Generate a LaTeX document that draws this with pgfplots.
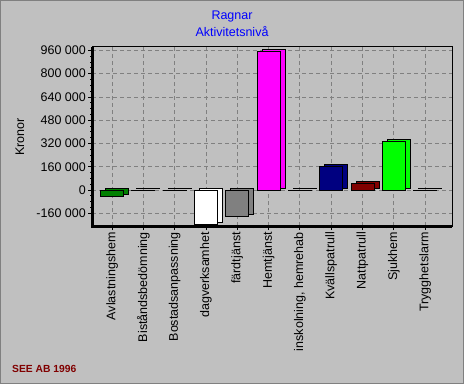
\documentclass[border=0pt]{standalone}
\usepackage{pgfplots}
\pgfplotsset{compat=1.18}
\usepackage{fontspec}
\setmainfont{Liberation Sans}
\definecolor{bg}{RGB}{192,192,192}
\definecolor{dgray}{RGB}{128,128,128}
\definecolor{cgreen}{RGB}{0,128,0}
\definecolor{cyellow}{RGB}{255,255,0}
\definecolor{cblue}{RGB}{0,0,255}
\definecolor{cwhite}{RGB}{255,255,255}
\definecolor{cgray}{RGB}{128,128,128}
\definecolor{cmagenta}{RGB}{255,0,255}
\definecolor{cteal}{RGB}{0,128,128}
\definecolor{cnavy}{RGB}{0,0,128}
\definecolor{cmaroon}{RGB}{128,0,0}
\definecolor{clime}{RGB}{0,255,0}
\definecolor{colive}{RGB}{128,128,0}
\definecolor{titleblue}{RGB}{0,0,255}
\newcommand{\lf}{\fontsize{12.5bp}{14bp}\selectfont}
\begin{document}
\begin{tikzpicture}[x=1bp,y=1bp]
\fill[bg] (0,0) rectangle (464,384);
\draw[dgray,line width=1bp] (0.5,0.5) rectangle (463.5,383.5);
\node[titleblue,font=\lf] at (232,368) {Ragnar};
\node[titleblue,font=\lf] at (232,352) {Aktivitetsnivå};
\node[rotate=90,font=\lf] at (20,247) {Kronor};
\node[anchor=west,text=cmaroon,font=\fontsize{10.3bp}{12bp}\selectfont\bfseries,inner sep=0pt] at (12,15) {SEE AB 1996};
\begin{axis}[
  at={(92bp,158bp)}, anchor=south west,
  scale only axis, width=360bp, height=179bp,
  xmin=-0.64, xmax=10.86, ymin=-247000, ymax=983000,
  scaled y ticks=false,
  axis background/.style={fill=bg},
  axis line style={black,line width=1bp},
  xtick={0,...,10},
  xticklabels={Avlastningshem,Biståndsbedömning,Bostadsanpassning,dagverksamhet,färdtjänst,Hemtjänst,{inskolning, hemrehab},Kvällspatrull,Nattpatrull,Sjukhem,Trygghetslarm},
  ytick={-160000,0,160000,320000,480000,640000,800000,960000},
  yticklabels={-160 000,0,160 000,320 000,480 000,640 000,800 000,960 000},
  minor x tick num=3, minor y tick num=3,
  tick align=outside, xtick pos=bottom, ytick pos=left,
  major tick length=4bp, minor tick length=2bp,
  tick style={black,line width=0.8bp},
  grid=major,
  major grid style={dgray,dash pattern=on 4bp off 3bp,line width=0.8bp},
  ticklabel style={font=\lf},
  xticklabel style={rotate=90,anchor=east,inner sep=2bp},
  yticklabel style={inner sep=2bp},
  every axis plot/.append style={ybar,bar width=23bp,bar shift=0pt,draw=black,line width=0.8bp},
  clip=false,
]
% depth faces (drawn behind)
\addplot[fill=cgreen,xshift=5bp,yshift=2bp] coordinates {(0,-45000)};
\addplot[fill=cyellow,xshift=5bp,yshift=2bp] coordinates {(1,-1500)};
\addplot[fill=cblue,xshift=5bp,yshift=2bp] coordinates {(2,-1500)};
\addplot[fill=cwhite,xshift=5bp,yshift=2bp] coordinates {(3,-233000)};
\addplot[fill=cgray,xshift=5bp,yshift=2bp] coordinates {(4,-178000)};
\addplot[fill=cmagenta,xshift=5bp,yshift=2bp] coordinates {(5,955000)};
\addplot[fill=cteal,xshift=5bp,yshift=2bp] coordinates {(6,-1500)};
\addplot[fill=cnavy,xshift=5bp,yshift=2bp] coordinates {(7,164000)};
\addplot[fill=cmaroon,xshift=5bp,yshift=2bp] coordinates {(8,48000)};
\addplot[fill=clime,xshift=5bp,yshift=2bp] coordinates {(9,336000)};
\addplot[fill=colive,xshift=5bp,yshift=2bp] coordinates {(10,-1500)};
% front faces
\addplot[fill=cgreen] coordinates {(0,-45000)};
\addplot[fill=cyellow] coordinates {(1,-1500)};
\addplot[fill=cblue] coordinates {(2,-1500)};
\addplot[fill=cwhite] coordinates {(3,-233000)};
\addplot[fill=cgray] coordinates {(4,-178000)};
\addplot[fill=cmagenta] coordinates {(5,955000)};
\addplot[fill=cteal] coordinates {(6,-1500)};
\addplot[fill=cnavy] coordinates {(7,164000)};
\addplot[fill=cmaroon] coordinates {(8,48000)};
\addplot[fill=clime] coordinates {(9,336000)};
\addplot[fill=colive] coordinates {(10,-1500)};
\draw[black,line width=3bp] (rel axis cs:0,1) -- (rel axis cs:0,0) -- (rel axis cs:1,0);
\end{axis}
\end{tikzpicture}
\end{document}
